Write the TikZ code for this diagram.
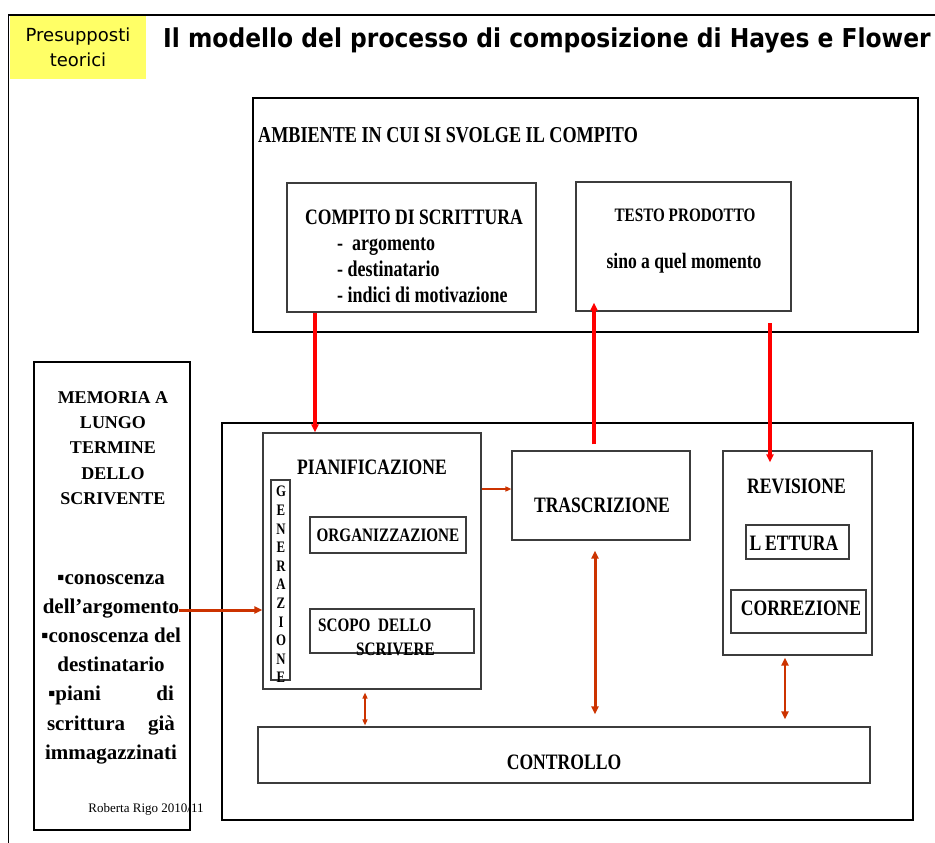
\documentclass[tikz,border=0pt]{standalone}
\usepackage{fontspec}
\setmainfont{Liberation Serif}
\newfontfamily\narrowserif{Liberation Serif}[FakeStretch=0.8]
\newfontfamily\slidesans{DejaVu Sans}
\newfontfamily\titlesans{DejaVu Sans}[FakeStretch=0.9]
\usetikzlibrary{arrows.meta, calc}
\definecolor{hotred}{rgb}{1,0,0}
\definecolor{rust}{RGB}{204,51,0}
\definecolor{tagyellow}{RGB}{255,255,102}
\definecolor{boxgray}{RGB}{60,60,60}
\tikzset{
    >={Triangle[length=8pt, width=7pt]}, % Filled arrowheads
    every node/.style={inner sep=0pt},
    bigbox/.style={draw, line width=2.6pt}, % Thick outer boxes
    box/.style={draw=boxgray, line width=1.1pt}, % Thin inner boxes
    boxlabel/.style={font=\narrowserif\bfseries\fontsize{22}{26}\selectfont},
    smalllabel/.style={font=\narrowserif\bfseries\fontsize{19}{23}\selectfont},
    listlabel/.style={font=\narrowserif\bfseries\fontsize{22.5}{26}\selectfont},
}

\begin{document}
\begin{tikzpicture}[
    x=1pt, y=-1pt,
    hotarrow/.style={->, draw=hotred, line width=3.2pt},
    rustarrow/.style={->, draw=rust, line width=3pt},
    rustthin/.style={draw=rust, line width=1.4pt, >={Triangle[length=6pt, width=5pt]}}
]
    \useasboundingbox (0,0) rectangle (935,843);

    % --- Slide frame and heading ---
    \draw[line width=1.6pt] (8.5,843) -- (8.5,15) -- (935,15);
    \node[fill=tagyellow, minimum width=136pt, minimum height=63pt, align=center,
          font=\slidesans\fontsize{18}{25}\selectfont] (tag) at (78,47.5) {Presupposti\\teorici};
    \node[font=\titlesans\bfseries\fontsize{26}{30}\selectfont, anchor=base west] (title) at (163,48)
        {Il modello del processo di composizione di Hayes e Flower};

    % --- Task environment ---
    \node[bigbox, minimum width=665pt, minimum height=234pt] (env) at (585.5,215) {};
    \node[boxlabel, anchor=base west, font=\narrowserif\bfseries\fontsize{22.7}{26}\selectfont] (envtitle) at (258,142)
        {AMBIENTE IN CUI SI SVOLGE IL COMPITO};
    \node[box, minimum width=249pt, minimum height=129pt] (compito) at (411.5,247.5) {};
    \node[boxlabel, anchor=base] (compitotitle) at (414,224) {COMPITO DI SCRITTURA};
    \node[listlabel, anchor=base west] (arg) at (337,250) {-\ \ argomento};
    \node[listlabel, anchor=base west] (dest) at (337,276) {-\ destinatario};
    \node[listlabel, anchor=base west] (mot) at (337,302) {-\ indici di motivazione};
    \node[box, minimum width=215pt, minimum height=129pt] (testo) at (683.5,246.5) {};
    \node[smalllabel, anchor=base] (testotitle) at (685,221) {TESTO PRODOTTO};
    \node[boxlabel, anchor=base] (momento) at (684,268) {sino a quel momento};

    % --- Long term memory ---
    \node[bigbox, minimum width=156pt, minimum height=468pt] (memoria) at (112,596) {};
    \node[font=\bfseries\fontsize{18}{25.3}\selectfont, align=center, anchor=north] (memtitle) at (113,391)
        {MEMORIA A\\LUNGO\\TERMINE\\DELLO\\SCRIVENTE};
    \node[font=\bfseries\fontsize{21}{29.2}\selectfont, align=center, anchor=north] (memlist) at (111,574)
        {▪conoscenza\\dell’argomento\\▪conoscenza del\\destinatario\\
         \makebox[126pt]{▪piani\hfill di}\\\makebox[128pt]{scrittura\hfill già}\\immagazzinati};
    \node[font=\fontsize{13}{15}\selectfont, anchor=base] (author) at (146,812) {Roberta Rigo 2010/11};

    % --- Writing processes ---
    \node[bigbox, minimum width=691pt, minimum height=397pt] (proc) at (567.5,621.5) {};
    \node[box, minimum width=218pt, minimum height=256pt] (pian) at (372,561) {};
    \node[boxlabel, anchor=base] (piantitle) at (372,474) {PIANIFICAZIONE};
    \node[box, minimum width=19pt, minimum height=200pt] (gen) at (280.5,580) {};
    \node[font=\narrowserif\bfseries\fontsize{16}{18.6}\selectfont, align=center, anchor=north] (genword) at (281,486)
        {G\\E\\N\\E\\R\\A\\Z\\I\\O\\N\\E};
    \node[box, smalllabel, minimum width=156pt, minimum height=36pt] (org) at (388,535) {ORGANIZZAZIONE};
    \node[box, minimum width=164pt, minimum height=44pt] (scopo) at (392,631) {};
    \node[smalllabel, anchor=base west] (scopo1) at (318,631) {SCOPO\ \ DELLO};
    \node[smalllabel, anchor=base west] (scopo2) at (356,655) {SCRIVERE};
    \node[box, minimum width=178pt, minimum height=89pt] (trasc) at (601,495.5) {};
    \node[boxlabel, anchor=base] (trasctitle) at (602,512) {TRASCRIZIONE};
    \node[box, minimum width=149pt, minimum height=204pt] (rev) at (797.5,553) {};
    \node[boxlabel, anchor=base] (revtitle) at (796.5,493) {REVISIONE};
    \node[box, minimum width=103pt, minimum height=34pt] (lett) at (797.5,542) {};
    \node[boxlabel, anchor=base] (letttitle) at (794,550) {L\,ETTURA};
    \node[box, minimum width=135pt, minimum height=43pt] (corr) at (798.5,611.5) {};
    \node[boxlabel, anchor=base] (corrtitle) at (801,615) {CORREZIONE};
    \node[box, minimum width=612pt, minimum height=56pt] (contr) at (564,755) {};
    \node[boxlabel, anchor=base] (contrtitle) at (564,769) {CONTROLLO};

    % --- Connectors ---
    \coordinate (compout) at ($(compito.south)+(-96.5,0)$);
    \draw[hotarrow] (compout) -- (compout |- pian.north);
    \coordinate (trascup) at ($(trasc.north)+(-7,-6)$);
    \draw[hotarrow] (trascup) -- ($(trascup |- testo.south)+(0,-9)$);
    \coordinate (revin) at ($(rev.north |- env.south)+(-27.5,-10)$);
    \draw[hotarrow] (revin) -- ($(revin |- rev.north)+(0,12)$);

    \coordinate (memout) at ($(memoria.east)+(-12,14)$);
    \draw[rustarrow] (memout) -- (memout -| pian.west);
    \coordinate (pianout) at ($(pian.east)+(0,-72)$);
    \draw[rustthin, ->] (pianout) -- (pianout -| trasc.west);

    \coordinate (pianctl) at ($(pian.south)+(-7,3)$);
    \draw[rustthin, <->] (pianctl) -- ($(pianctl |- contr.north)+(0,-1)$);
    \coordinate (trascctl) at ($(trasc.south)+(-6,10)$);
    \draw[rustarrow, <->] (trascctl) -- ($(trascctl |- contr.north)+(0,-12)$);
    \coordinate (revctl) at ($(rev.south)+(-12.5,2)$);
    \draw[rustarrow, <->, line width=2.4pt] (revctl) -- ($(revctl |- contr.north)+(0,-7)$);

\end{tikzpicture}
\end{document}
